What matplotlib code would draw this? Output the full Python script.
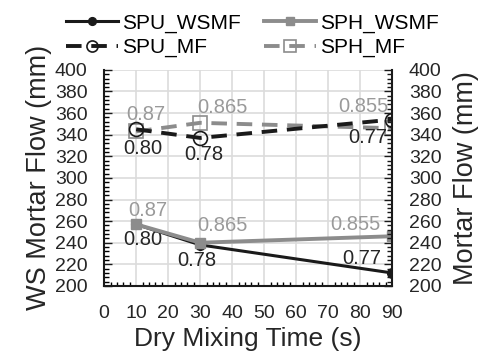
import matplotlib.pyplot as plt
from matplotlib.ticker import MultipleLocator

plt.rcParams['font.family'] = ['Liberation Sans', 'DejaVu Sans']

times = [10, 30, 90]
spu_wsmf = [257, 238, 212]
sph_wsmf = [257, 240, 246]
spu_mf = [345, 337, 354]
sph_mf = [343, 351, 346]

spu_labels = ['0.80', '0.78', '0.77']
sph_labels = ['0.87', '0.865', '0.855']

black = '#1a1a1a'
gray = '#8c8c8c'
text_gray = '#9a9a9a'
txt = '#262626'


def main():
    fig = plt.figure(figsize=(4.8, 3.53), dpi=100)
    ax = fig.add_axes([0.217, 0.19, 0.6, 0.612])

    l1, = ax.plot(times, spu_wsmf, '-', color=black, lw=2.2, marker='o', ms=7, label='SPU_WSMF', zorder=3)
    l2, = ax.plot(times, sph_wsmf, '-', color=gray, lw=2.8, marker='s', ms=7, label='SPH_WSMF', zorder=4)
    l3, = ax.plot(times, spu_mf, '--', color=black, lw=2.8, marker='o', ms=10, mfc='none', mew=1.2,
                  dashes=(4, 2.5), label='SPU_MF', zorder=3)
    l4, = ax.plot(times, sph_mf, '--', color=gray, lw=2.8, marker='s', ms=10, mfc='none', mew=1.2,
                  dashes=(4, 2.5), label='SPH_MF', zorder=2)

    # value annotations (text positions in data units)
    top_pos = [(13, 359), (37, 365), (81, 366)]
    low_pos = [(12, 327), (31, 322), (82.5, 337)]
    top_pos2 = [(13.5, 270), (37, 256), (78.5, 257)]
    low_pos2 = [(12, 243), (29, 224), (80.5, 225)]
    for pos in (top_pos, top_pos2):
        for (x, y), s in zip(pos, sph_labels):
            ax.text(x, y, s, color=text_gray, fontsize=14.5, ha='center', va='center')
    for pos in (low_pos, low_pos2):
        for (x, y), s in zip(pos, spu_labels):
            ax.text(x, y, s, color=txt, fontsize=14.5, ha='center', va='center')

    ax.set_xlim(0, 90)
    ax.set_ylim(200, 400)
    ax.xaxis.set_major_locator(MultipleLocator(10))
    ax.xaxis.set_minor_locator(MultipleLocator(2))
    ax.yaxis.set_major_locator(MultipleLocator(20))
    ax.yaxis.set_minor_locator(MultipleLocator(4))
    ax.grid(True, which='major', color='#dcdcdc', lw=1.2)
    ax.set_axisbelow(True)
    for sp in ['top', 'right']:
        ax.spines[sp].set_visible(False)
    for sp in ['left', 'bottom']:
        ax.spines[sp].set_color(black)
        ax.spines[sp].set_linewidth(1.5)
    ax.tick_params(axis='both', which='major', labelsize=14, labelcolor=txt, colors=black)
    ax.tick_params(axis='y', which='major', direction='in', length=6, width=1, pad=12)
    ax.tick_params(axis='y', which='minor', direction='in', length=3.5, width=1)
    ax.tick_params(axis='x', which='major', length=0, pad=14)
    ax.tick_params(axis='x', which='minor', direction='in', length=3, width=1)

    ax.set_xlabel('Dry Mixing Time (s)', fontsize=19, color=txt, labelpad=3)
    ax.set_ylabel('WS Mortar Flow (mm)', fontsize=19.5, color=txt, labelpad=2)

    ax2 = ax.twinx()
    ax2.set_ylim(200, 400)
    ax2.yaxis.set_major_locator(MultipleLocator(20))
    ax2.yaxis.set_minor_locator(MultipleLocator(4))
    for sp in ['top', 'left', 'bottom']:
        ax2.spines[sp].set_visible(False)
    ax2.spines['right'].set_color(black)
    ax2.spines['right'].set_linewidth(1.5)
    ax2.tick_params(axis='y', which='major', labelsize=14, labelcolor=txt, colors=black,
                    direction='in', length=6, width=1, pad=12)
    ax2.tick_params(axis='y', which='minor', direction='in', length=3.5, width=1, colors=black)
    ax2.set_ylabel('Mortar Flow (mm)', fontsize=19.5, color=txt, labelpad=8)

    fig.legend([l1, l3, l2, l4], ['SPU_WSMF', 'SPU_MF', 'SPH_WSMF', 'SPH_MF'],
               loc='upper left', bbox_to_anchor=(0.12, 0.985), ncol=2, frameon=False,
               fontsize=15, handlelength=2.5, handletextpad=0.2, columnspacing=1.1,
               labelspacing=0.25, borderaxespad=0, markerscale=0.8)

    fig.savefig('out.png', dpi=100)


if __name__ == '__main__':
    main()
